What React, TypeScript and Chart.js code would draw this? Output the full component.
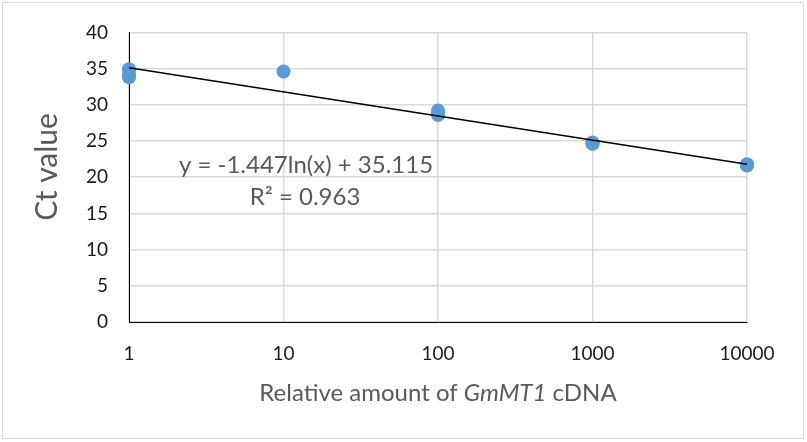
import React, { useEffect, useRef } from "react";
import { Chart, registerables } from "chart.js";

Chart.register(...registerables);

// ---- data ----
const amounts = [1, 1, 1, 10, 100, 100, 100, 1000, 1000, 1000, 10000, 10000, 10000];
const ctValues = [34.9, 34.3, 33.8, 34.6, 29.2, 28.9, 28.6, 24.8, 24.7, 24.6, 21.8, 21.7, 21.6];
const xTickValues = [1, 10, 100, 1000, 10000];
const trendSlope = -1.447;
const trendIntercept = 35.115;
const equationText = "y = -1.447ln(x) + 35.115";
const r2Text = "R² = 0.963";
const yTitleText = "Ct value";
const xTitleParts = [
  { text: "Relative amount of ", italic: false },
  { text: "GmMT1", italic: true },
  { text: " cDNA", italic: false },
];

const FONT = "Lato, 'Open Sans', sans-serif";
const GRAY = "#595959";

const decorPlugin = {
  id: "decor",
  beforeDraw(chart: any) {
    const ctx = chart.ctx;
    ctx.save();
    ctx.fillStyle = "#ffffff";
    ctx.fillRect(0, 0, chart.width, chart.height);
    ctx.strokeStyle = "#d9d9d9";
    ctx.lineWidth = 1;
    ctx.strokeRect(2.5, 2.5, 801, 436);
    ctx.restore();
  },
  afterDraw(chart: any) {
    const ctx = chart.ctx;
    const area = chart.chartArea;
    ctx.save();
    ctx.fillStyle = GRAY;
    ctx.textBaseline = "middle";
    ctx.textAlign = "center";
    // trendline equation
    ctx.font = `24px ${FONT}`;
    ctx.fillText(equationText, 306, 165);
    ctx.fillText(r2Text, 305, 197);
    // y title
    ctx.save();
    ctx.translate(47, 167);
    ctx.rotate(-Math.PI / 2);
    ctx.font = `30px ${FONT}`;
    ctx.fillText(yTitleText, 0, 0);
    ctx.restore();
    // x title with italic part
    ctx.textAlign = "left";
    const fonts = xTitleParts.map((p) => `${p.italic ? "italic " : ""}24px ${FONT}`);
    let total = 0;
    const widths = xTitleParts.map((p, i) => {
      ctx.font = fonts[i];
      const w = ctx.measureText(p.text).width;
      total += w;
      return w;
    });
    let x = (area.left + area.right) / 2 - total / 2;
    xTitleParts.forEach((p, i) => {
      ctx.font = fonts[i];
      ctx.fillText(p.text, x, 393);
      x += widths[i];
    });
    ctx.restore();
  },
};

export default function App() {
  const ref = useRef<HTMLCanvasElement | null>(null);

  useEffect(() => {
    if (!ref.current) return;
    const scatterData = amounts.map((a, i) => ({ x: a, y: ctValues[i] }));
    const xMin = xTickValues[0];
    const xMax = xTickValues[xTickValues.length - 1];
    const trendData = [
      { x: xMin, y: trendSlope * Math.log(xMin) + trendIntercept },
      { x: xMax, y: trendSlope * Math.log(xMax) + trendIntercept },
    ];
    const chart = new Chart(ref.current, {
      type: "scatter",
      data: {
        datasets: [
          {
            type: "line",
            label: "Trend",
            data: trendData,
            borderColor: "#000000",
            borderWidth: 1.5,
            pointRadius: 0,
            fill: false,
            clip: false,
          } as any,
          {
            label: "Ct",
            data: scatterData,
            backgroundColor: "#5b9bd5",
            borderColor: "#5b9bd5",
            borderWidth: 0,
            pointRadius: 7,
            clip: false,
          } as any,
        ],
      },
      options: {
        animation: false,
        responsive: false,
        maintainAspectRatio: false,
        layout: { padding: { left: 0, right: 60, top: 31, bottom: 0 } },
        plugins: {
          legend: { display: false },
          tooltip: { enabled: false },
        },
        scales: {
          x: {
            type: "logarithmic",
            min: 1,
            max: 10000,
            afterBuildTicks: (scale: any) => {
              scale.ticks = xTickValues.map((v) => ({ value: v }));
            },
            afterFit: (scale: any) => {
              scale.height = 120;
            },
            grid: { color: "#d9d9d9", lineWidth: 1.5, drawTicks: false },
            border: { color: "#000000", width: 1 },
            ticks: {
              color: "#1a1a1a",
              font: { family: FONT, size: 19 },
              padding: 20,
              autoSkip: false,
              maxRotation: 0,
              callback: (v: any) => String(v),
            },
          },
          y: {
            min: 0,
            max: 40,
            afterFit: (scale: any) => {
              scale.width = 129;
            },
            grid: { color: "#d9d9d9", lineWidth: 1.5, drawTicks: false },
            border: { color: "#000000", width: 1 },
            ticks: {
              stepSize: 5,
              color: "#1a1a1a",
              font: { family: FONT, size: 19 },
              padding: 21,
            },
          },
        },
      },
      plugins: [decorPlugin],
    });
    return () => chart.destroy();
  }, []);

  return (
    <div style={{ position: "absolute", left: 0, top: 0, width: 807, height: 442 }}>
      <canvas ref={ref} width={807} height={442} style={{ width: 807, height: 442, display: "block" }} />
    </div>
  );
}
